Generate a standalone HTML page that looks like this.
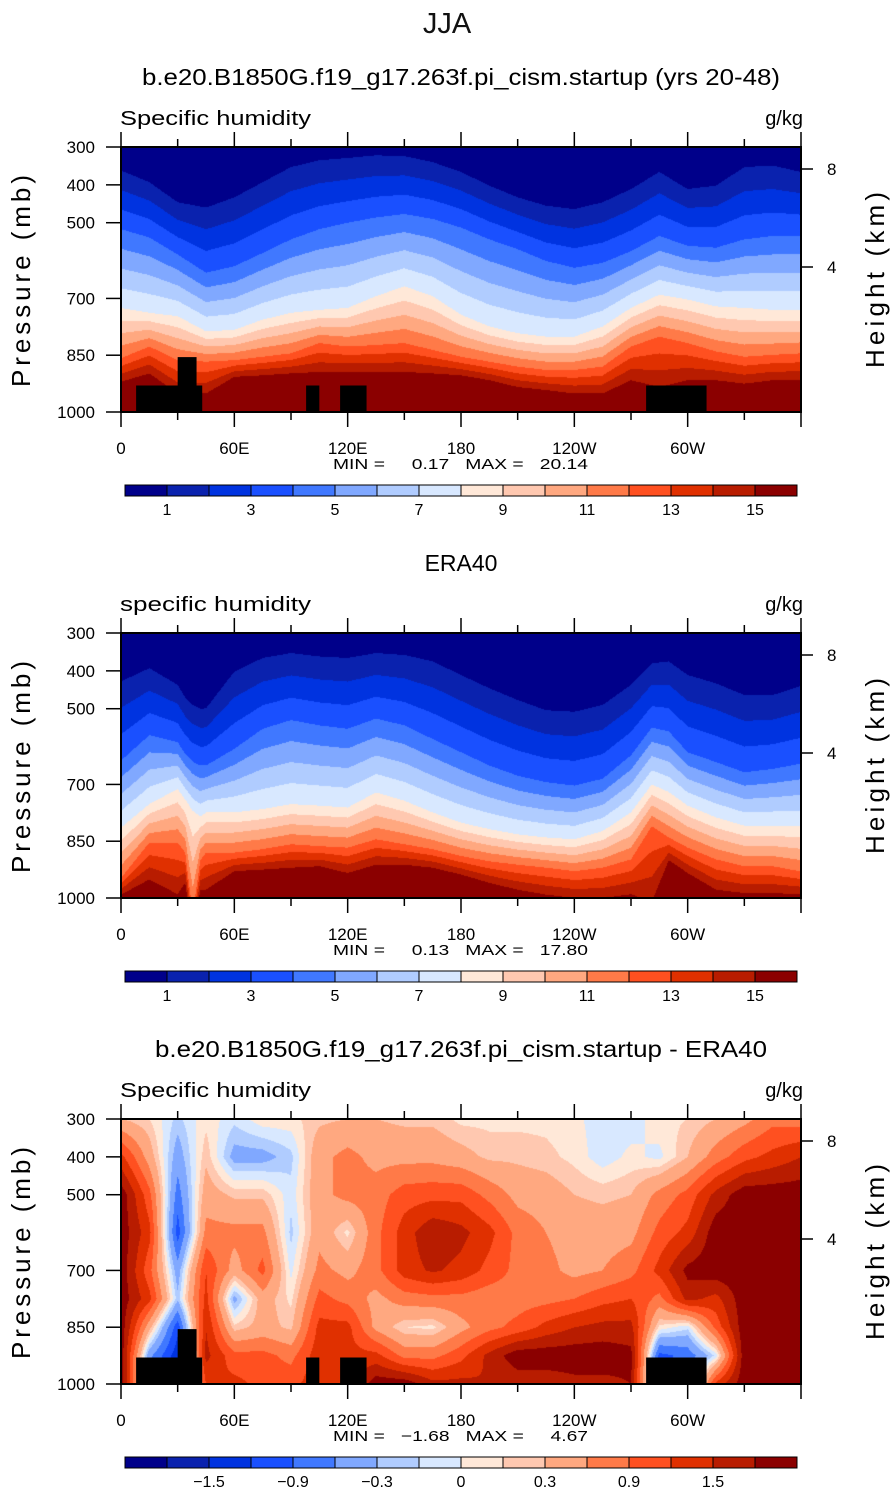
<!DOCTYPE html>
<html><head><meta charset="utf-8">
<style>
html,body{margin:0;padding:0;background:#fff;}
body{width:895px;height:1493px;position:relative;overflow:hidden;font-family:"Liberation Sans",sans-serif;}
canvas{position:absolute;left:121px;}
svg{position:absolute;left:0;top:0;}
</style></head>
<body>
<canvas id="c1" width="680" height="265" style="top:147px"></canvas>
<canvas id="c2" width="680" height="265" style="top:633px"></canvas>
<canvas id="c3" width="680" height="265" style="top:1119px"></canvas>
<svg id="ov" width="895" height="1493"></svg>
<script>
// ---------- DATA ----------
const colors = ["#00008a","#0a22ae","#0033e0","#1a50ff","#4078ff","#80a8ff","#b0ccff","#d8e8ff","#ffe8d8","#ffc8b0","#ffa880","#ff7a48","#ff5020","#e03000","#b81c00","#8b0000"];
const levelsQ = [1,2,3,4,5,6,7,8,9,10,11,12,13,14,15];
const levelsD = [-1.8,-1.5,-1.2,-0.9,-0.6,-0.3,-0.15,0,0.15,0.3,0.6,0.9,1.2,1.5,1.8];
const barLabelsQ = ["1","3","5","7","9","11","13","15"];
const barLabelsD = ["\u22121.5","\u22120.9","\u22120.3","0","0.3","0.9","1.5"];
const lonTickLabels = ["0","60E","120E","180","120W","60W"];
const lonTickValues = [0,60,120,180,240,300];
const presTicks = [300,400,500,700,850,1000];
const heightTicks = [8,4];

// Panel 1 (model): pressure (mb) of q = 1,4,8,12,15 g/kg contours per longitude
const lon1 = [0,15,30,45,60,75,90,105,120,135,150,165,180,195,210,225,240,255,270,285,300,315,330,345,360];
const m_P1  = [362,393,446,460,433,393,353,335,329,322,324,340,366,402,433,455,464,446,411,366,411,402,353,349,366];
const m_P4  = [517,539,584,632,615,580,544,517,500,486,477,490,513,544,570,601,619,606,575,535,561,566,544,535,535];
const m_P8  = [725,738,747,787,783,756,738,730,725,694,668,694,743,774,792,801,801,774,725,690,703,721,725,730,730];
const m_P12 = [858,827,863,867,863,854,845,818,827,823,818,836,854,867,880,889,889,880,827,801,818,840,854,849,845];
const m_P15 = [920,898,951,951,907,903,898,894,894,894,894,898,903,916,934,942,951,951,916,934,916,916,925,916,916];

// Panel 2 (ERA40)
const lon2 = [0,15,30,34,38,42,45,60,75,90,105,120,135,150,165,180,195,210,225,240,255,270,281,290,300,315,330,345,360];
const e_P1  = [428,393,437,470,490,500,499,402,366,353,362,366,353,358,375,411,446,477,504,508,490,437,380,375,411,433,464,464,440];
const e_P4  = [637,570,588,620,640,650,650,606,553,530,544,553,526,544,580,615,650,677,694,703,685,623,550,560,615,641,668,659,645];
const e_P8  = [814,752,712,740,770,785,774,774,765,752,756,761,721,743,774,801,818,832,840,845,823,774,700,720,756,787,809,809,810];
const e_P12 = [947,854,854,880,1040,900,880,880,871,858,863,867,845,858,871,889,903,912,920,929,920,898,810,840,867,898,916,916,930];
const e_P15 = [991,951,990,960,1100,980,978,929,925,920,916,934,912,912,920,938,960,978,991,1000,1000,990,1010,900,934,978,987,987,990];

// Panel 3 (difference) grid: rows = pressure, cols = longitude
const lon3 = [0,15,30,45,60,75,90,105,120,135,150,165,180,195,210,225,240,255,270,285,300,315,330,345,360];
const pres3 = [300,400,500,600,700,775,850,925,1000];
const d300 = [0.3,0.15,-0.2,0.1,-0.1,0.1,0.1,0.25,0.3,0.3,0.25,0.25,0.1,0.1,0.1,0.1,0.05,-0.1,-0.1,0.1,0.15,0.3,0.5,0.8,0.75];
const d400 = [1.3,0.45,-0.45,0.25,-0.4,-0.4,-0.2,0.5,0.7,0.5,0.5,0.5,0.4,0.25,0.25,0.2,0.1,-0.1,0.05,-0.05,0.3,0.75,1.1,1.3,1.5];
const d500 = [2.0,1.0,-0.75,0.45,0.25,0.25,-0.1,0.5,0.7,0.75,1.05,1.1,1.1,0.8,0.5,0.45,0.3,0.25,0.3,0.7,1.0,1.6,2.0,2.0,2.0];
const d600 = [2.0,1.3,-1.05,0.7,0.7,0.7,-0.2,0.5,0.1,0.8,1.35,1.75,1.6,1.3,0.8,0.6,0.45,0.45,0.5,1.0,1.3,2.0,2.0,2.0,2.0];
const d700 = [2.0,1.0,-0.45,1.2,0.45,1.0,-0.05,0.7,0.5,0.8,1.35,1.55,1.4,1.1,0.8,0.7,0.5,0.6,0.8,1.3,1.9,2.0,2.0,2.0,2.0];
const d775 = [2.0,1.3,-0.25,1.3,-0.4,0.45,0.1,1.0,0.8,0.5,0.75,0.8,0.8,0.7,0.75,0.8,0.9,1.1,1.2,0.8,1.6,1.4,2.0,2.0,2.0];
const d850 = [2.0,0.4,-1.1,1.5,0.2,0.4,0.25,1.3,1.3,0.5,0.15,0.1,0.5,0.8,1.0,1.3,1.5,1.6,1.6,0.1,-0.1,1.0,2.0,2.0,2.0];
const d925 = [2.0,-0.5,-1.4,1.6,1.0,1.0,0.8,1.4,1.3,1.3,0.8,0.8,1.1,1.6,2.0,2.0,2.0,2.0,1.9,-1.0,-0.8,-0.1,2.0,2.0,2.0];
const d1000= [2.0,-0.5,-1.4,1.2,1.3,1.1,1.1,1.4,1.3,2.0,2.0,1.6,1.6,1.5,1.6,1.6,1.7,1.7,1.8,-1.0,-0.8,1.3,2.0,2.0,2.0];
const diffGrid = [d300,d400,d500,d600,d700,d775,d850,d925,d1000];

// Topography (black) boxes: [lon0, lon1, topPressure]
const topoLon0 = [8,30,98,116,278];
const topoLon1 = [43,40,105,130,310];
const topoTop  = [930,855,930,930,930];

// ---------- AXES ----------
const PX0=121, PW=680, PH=265;
function xOf(lon){return PX0+lon/360*PW;}
function yOf(p){return (p-300)/700*PH;}
function lonOfX(px){return px/PW*360;}
function pOfY(py){return 300+py/PH*700;}
function interp(xs,ys,x){
  if(x<=xs[0])return ys[0];
  for(let i=1;i<xs.length;i++){ if(x<=xs[i]){const t=(x-xs[i-1])/(xs[i]-xs[i-1]);return ys[i-1]+t*(ys[i]-ys[i-1]);} }
  return ys[ys.length-1];
}
function levelIndex(v,lv){let k=0;while(k<lv.length&&v>=lv[k])k++;return k;}
function hexRGB(h){return [parseInt(h.substr(1,2),16),parseInt(h.substr(3,2),16),parseInt(h.substr(5,2),16)];}
const rgb=colors.map(hexRGB);

function drawKnotPanel(id,lons,P1,P4,P8,P12,P15){
  const cv=document.getElementById(id),ctx=cv.getContext('2d');
  const img=ctx.createImageData(PW,PH);
  for(let x=0;x<PW;x++){
    const lon=lonOfX(x+0.5);
    const kp=[300,interp(lons,P1,lon),interp(lons,P4,lon),interp(lons,P8,lon),interp(lons,P12,lon),interp(lons,P15,lon)];
    const kq=[0.3,1,4,8,12,15];
    for(let y=0;y<PH;y++){
      const p=pOfY(y+0.5);
      let q;
      if(p>=kp[5]) q=15+(p-kp[5])*0.05; else q=interp(kp,kq,p);
      const c=rgb[levelIndex(q,levelsQ)];
      const i=(y*PW+x)*4;img.data[i]=c[0];img.data[i+1]=c[1];img.data[i+2]=c[2];img.data[i+3]=255;
    }
  }
  ctx.putImageData(img,0,0);
}
function drawGridPanel(id){
  const cv=document.getElementById(id),ctx=cv.getContext('2d');
  const img=ctx.createImageData(PW,PH);
  for(let x=0;x<PW;x++){
    const lon=lonOfX(x+0.5);
    const col=diffGrid.map(r=>interp(lon3,r,lon));
    for(let y=0;y<PH;y++){
      const v=interp(pres3,col,pOfY(y+0.5));
      const c=rgb[levelIndex(v,levelsD)];
      const i=(y*PW+x)*4;img.data[i]=c[0];img.data[i+1]=c[1];img.data[i+2]=c[2];img.data[i+3]=255;
    }
  }
  ctx.putImageData(img,0,0);
}
drawKnotPanel('c1',lon1,m_P1,m_P4,m_P8,m_P12,m_P15);
drawKnotPanel('c2',lon2,e_P1,e_P4,e_P8,e_P12,e_P15);
drawGridPanel('c3');

const NS="http://www.w3.org/2000/svg";
const ov=document.getElementById('ov');
function mk(tag,attrs,parent){const e=document.createElementNS(NS,tag);for(const k in attrs)e.setAttribute(k,attrs[k]);(parent||ov).appendChild(e);return e;}
function txt(s,attrs,parent){const e=mk('text',attrs,parent);e.textContent=s;return e;}

const g0=mk('g',{});


txt("JJA",{x:447,y:33,'text-anchor':'middle','font-size':29,fill:'#111','font-family':'Liberation Sans, sans-serif'},g0);

function panel(off,title,label,mmStr,levels,barLabels,barLabelIdx,withTopo,name){
  const g=mk('g',{'font-family':'Liberation Sans, sans-serif'});
  
  
  const top=147+off, bot=412+off;
  const t=txt(title,{x:461,y:85+off,'text-anchor':'middle','font-size':23,fill:'#000'},g);
  
  
  if(title.length>10){t.setAttribute('textLength',title.length>50?638:612);t.setAttribute('lengthAdjust','spacingAndGlyphs');}
  const l=txt(label,{x:120,y:125+off,'font-size':20,fill:'#000',textLength:191,lengthAdjust:'spacingAndGlyphs'},g);
  
  
  const u=txt("g/kg",{x:803,y:125+off,'text-anchor':'end','font-size':20,fill:'#000'},g);
  
  
  if(withTopo){
    for(let i=0;i<topoLon0.length;i++){
      const r=mk('rect',{x:xOf(topoLon0[i]),y:top+yOf(topoTop[i]),width:xOf(topoLon1[i])-xOf(topoLon0[i]),height:bot-(top+yOf(topoTop[i])),fill:'#000'},g);
      
      
    }
  }
  const fr=mk('rect',{x:121,y:top,width:680,height:265,fill:'none',stroke:'#000','stroke-width':2},g);
  
  
  for(let lon=0;lon<=360;lon+=30){
    const major=lon%60===0, len=major?15:8, x=xOf(lon);
    mk('line',{x1:x,y1:top,x2:x,y2:top-len,stroke:'#000','stroke-width':1.5},g);
    mk('line',{x1:x,y1:bot,x2:x,y2:bot+len,stroke:'#000','stroke-width':1.5},g);
  }
  lonTickValues.forEach((lon,i)=>{
    const e=txt(lonTickLabels[i],{x:xOf(lon),y:454+off,'text-anchor':'middle','font-size':17,fill:'#000'},g);
    
    
  });
  presTicks.forEach(p=>{
    const y=top+yOf(p);
    mk('line',{x1:106,y1:y,x2:121,y2:y,stroke:'#000','stroke-width':1.5},g);
    const e=txt(String(p),{x:95,y:y+6,'text-anchor':'end','font-size':17,fill:'#000'},g);
    
    
  });
  const hy=[169,267];
  heightTicks.forEach((h,i)=>{
    const y=hy[i]+off;
    mk('line',{x1:801,y1:y,x2:813,y2:y,stroke:'#000','stroke-width':1.5},g);
    const e=txt(String(h),{x:827,y:y+6,'font-size':17,fill:'#000'},g);
    
    
  });
  const ya=txt("Pressure (mb)",{x:0,y:0,'text-anchor':'middle','font-size':26,fill:'#000',textLength:212,transform:`translate(30,${281+off}) rotate(-90)`},g);
  
  
  const ya2=txt("Height (km)",{x:0,y:0,'text-anchor':'middle','font-size':26,fill:'#000',textLength:176,transform:`translate(884,${280+off}) rotate(-90)`},g);
  
  
  const mm=txt(mmStr,{x:333,y:469+off,'font-size':15,fill:'#000',textLength:255,lengthAdjust:'spacingAndGlyphs',style:'white-space:pre'},g);
  
  
  const bw=42;
  for(let k=0;k<16;k++){
    const r=mk('rect',{x:125+k*bw,y:485+off,width:bw,height:11,fill:colors[k],stroke:'#000','stroke-width':1},g);
    
    
  }
  barLabels.forEach((s,i)=>{
    const e=txt(s,{x:125+bw*barLabelIdx[i],y:515+off,'text-anchor':'middle','font-size':16,fill:'#000'},g);
    
    
  });
}
panel(0,"b.e20.B1850G.f19_g17.263f.pi_cism.startup (yrs 20-48)","Specific humidity","MIN =     0.17   MAX =   20.14",levelsQ,barLabelsQ,[1,3,5,7,9,11,13,15],true,'model');
panel(486,"ERA40","specific humidity","MIN =     0.13   MAX =   17.80",levelsQ,barLabelsQ,[1,3,5,7,9,11,13,15],false,'era40');
panel(972,"b.e20.B1850G.f19_g17.263f.pi_cism.startup - ERA40","Specific humidity","MIN =   \u22121.68   MAX =     4.67",levelsD,barLabelsD,[2,4,6,8,10,12,14],true,'difference');
</script>
</body></html>
